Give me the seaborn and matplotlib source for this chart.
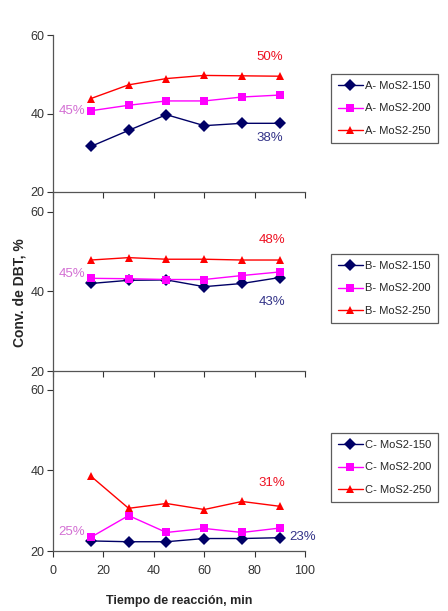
import seaborn as sns
import pandas as pd
import matplotlib.pyplot as plt

# reaction time, min
tiempo = [15, 30, 45, 60, 75, 90]

a_150 = [31.6, 35.7, 39.7, 36.9, 37.5, 37.5]
a_200 = [40.7, 42.1, 43.2, 43.2, 44.2, 44.7]
a_250 = [43.8, 47.3, 48.9, 49.7, 49.6, 49.5]

b_150 = [42.0, 42.8, 42.9, 41.2, 42.0, 43.5]
b_200 = [43.3, 43.2, 43.0, 43.0, 44.0, 44.9]
b_250 = [47.9, 48.5, 48.1, 48.1, 47.9, 47.9]

c_150 = [22.5, 22.3, 22.3, 23.1, 23.1, 23.3]
c_200 = [23.4, 28.8, 24.6, 25.6, 24.6, 25.7]
c_250 = [38.6, 30.6, 31.8, 30.3, 32.3, 31.1]

soportes = ['A', 'B', 'C']
temps = ['150', '200', '250']
etiquetas = [['38%', '45%', '50%'], ['43%', '45%', '48%'], ['23%', '25%', '31%']]

colores = ['#000066', '#ff00ff', '#ff0000']
txt_colores = ['#333388', '#d36fd3', '#ee1122']
marcas = ['D', 's', '^']

sns.set_style('ticks')
plt.rcParams['font.family'] = ['Liberation Sans', 'DejaVu Sans']


def make_df(letter, series):
    rows = []
    for t, vals in zip(temps, series):
        for x, y in zip(tiempo, vals):
            rows.append({'tiempo': x, 'conv': y, 'serie': letter + '- MoS2-' + t})
    return pd.DataFrame(rows)


data = {'A': [a_150, a_200, a_250], 'B': [b_150, b_200, b_250], 'C': [c_150, c_200, c_250]}

fig = plt.figure(figsize=(4.48, 6.11), dpi=100)
H = 611.0
W = 448.0
# (top px, bottom px, ymax, legend top px)
panels = [(35, 192, 60, 74), (192, 371, 65.0, 254), (371, 551, 64.7, 433)]
# label positions (x, y) per panel for 150, 200, 250
pos = [[(86, 33.8), (7.5, 40.6), (86, 54.4)],
       [(87, 37.4), (7.5, 44.4), (87, 53.0)],
       [(99, 23.5), (7.5, 24.8), (87, 36.9)]]

for i, letra in enumerate(soportes):
    top, bot, ymax, legtop = panels[i]
    ax = fig.add_axes([53 / W, 1 - bot / H, 252 / W, (bot - top) / H])
    ax.set_facecolor('none')
    df = make_df(letra, data[letra])
    sns.lineplot(data=df, x='tiempo', y='conv', hue='serie', style='serie',
                 palette=colores, markers=marcas, dashes=False, markersize=6,
                 markeredgewidth=0, linewidth=1, ax=ax)
    ax.set_xlim(0, 100)
    ax.set_ylim(20, ymax)
    ax.set_yticks([20, 40, 60])
    ax.set_xticks([0, 20, 40, 60, 80, 100])
    ax.tick_params(labelsize=9, length=4, width=0.8, colors='#333333')
    ax.tick_params(axis='y', pad=2)
    ax.tick_params(axis='x', pad=6)
    for s in ['top', 'right']:
        ax.spines[s].set_visible(False)
    for s in ['left', 'bottom']:
        ax.spines[s].set_color('#555555')
        ax.spines[s].set_linewidth(0.9)
    ax.set_xlabel('')
    ax.set_ylabel('')
    if i < 2:
        ax.tick_params(axis='x', labelbottom=False)
    else:
        ax.set_xlabel('Tiempo de reacción, min', fontsize=9, fontweight='bold', labelpad=13)

    leg = ax.get_legend()
    handles = leg.legend_handles
    labels = [t.get_text() for t in leg.get_texts()]
    leg.remove()
    ax.legend(handles, labels, loc='upper left', bbox_to_anchor=(331 / W, 1 - legtop / H),
              bbox_transform=fig.transFigure, borderaxespad=0, fontsize=8,
              frameon=True, fancybox=False, edgecolor='#333333', handlelength=2.2,
              labelspacing=1.1, handletextpad=0.2, borderpad=0.65)
    ax.get_legend().get_frame().set_linewidth(0.9)

    for j in range(3):
        x, y = pos[i][j]
        ax.text(x, y, etiquetas[i][j], color=txt_colores[j], fontsize=9.5,
                ha='center', va='center')

fig.text(19 / W, 1 - 293 / H, 'Conv. de DBT, %', rotation=90, fontsize=10,
         fontweight='bold', ha='center', va='center')

fig.savefig('out.png', dpi=100)
